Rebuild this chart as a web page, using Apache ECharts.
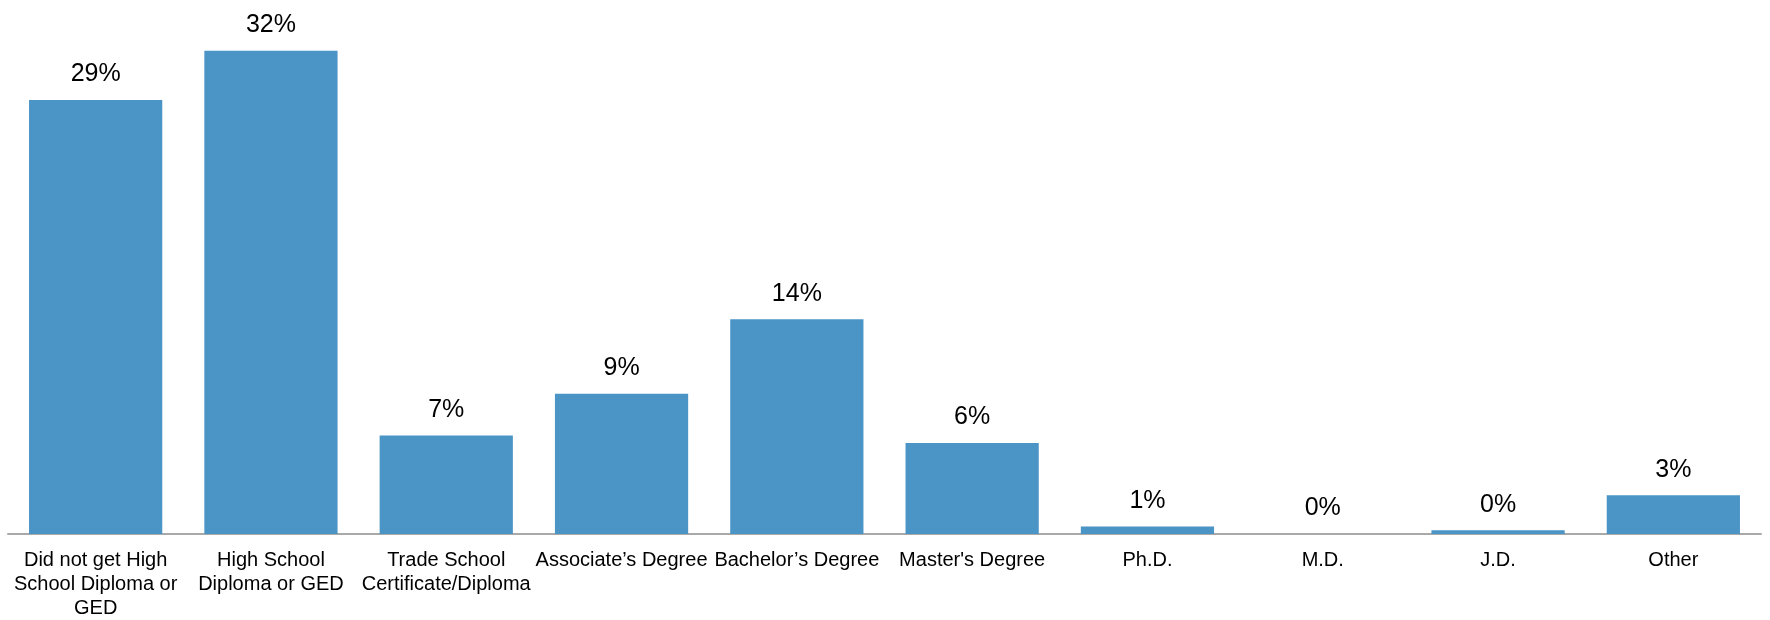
<!DOCTYPE html>
<html>
<head>
<meta charset="utf-8">
<script src="https://cdn.jsdelivr.net/npm/echarts@6/dist/echarts.min.js"></script>
<style>
html,body{margin:0;padding:0;background:#fff;}
#c{width:1770px;height:620px;}
</style>
</head>
<body>
<div id="c"></div>
<script>
const categories = [
  "Did not get High\nSchool Diploma or\nGED",
  "High School\nDiploma or GED",
  "Trade School\nCertificate/Diploma",
  "Associate\u2019s Degree",
  "Bachelor\u2019s Degree",
  "Master's Degree",
  "Ph.D.",
  "M.D.",
  "J.D.",
  "Other"
];
const values = [29.1, 32.4, 6.6, 9.4, 14.4, 6.1, 0.5, 0, 0.25, 2.6];
const yMax = 35;

const chart = echarts.init(document.getElementById('c'), null, {renderer: 'canvas'});
chart.setOption({
  animation: false,
  backgroundColor: '#ffffff',
  textStyle: {fontFamily: 'Liberation Sans, Arial, sans-serif'},
  grid: {left: 8, right: 9, top: 12, bottom: 83, containLabel: false},
  xAxis: {
    type: 'category',
    data: categories,
    axisLine: {show: true, lineStyle: {color: '#a9a9a9', width: 2}},
    axisTick: {show: false},
    axisLabel: {
      interval: 0,
      color: '#000',
      fontSize: 20,
      lineHeight: 24,
      margin: 14,
      fontFamily: 'Liberation Sans, Arial, sans-serif'
    }
  },
  yAxis: {
    type: 'value',
    min: 0,
    max: yMax,
    show: false,
    splitLine: {show: false}
  },
  series: [{
    type: 'bar',
    data: values,
    barCategoryGap: '24%',
    itemStyle: {color: '#4a94c6'},
    label: {
      show: true,
      position: 'top',
      distance: 13,
      color: '#000',
      fontSize: 25,
      fontFamily: 'Liberation Sans, Arial, sans-serif',
      formatter: p => Math.round(p.value) + '%'
    }
  }]
});
</script>
</body>
</html>
